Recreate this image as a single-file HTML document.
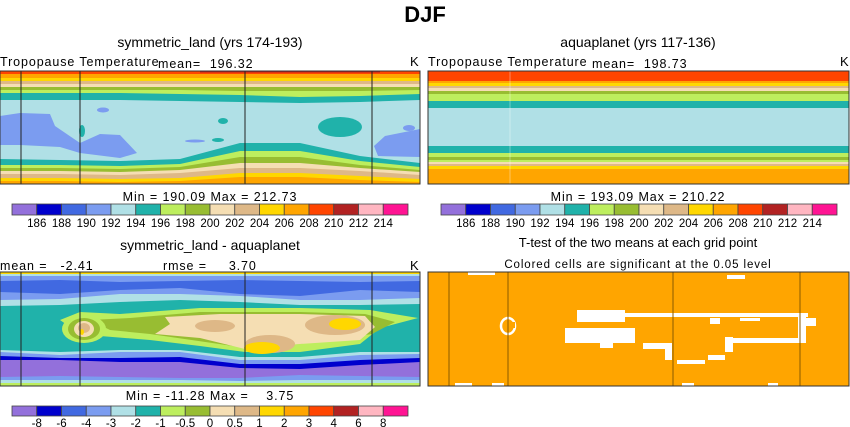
<!DOCTYPE html>
<html><head><meta charset="utf-8"><style>
html,body{margin:0;padding:0;background:#fff;}
svg{display:block;font-family:"Liberation Sans",sans-serif;}
.w{letter-spacing:0.9px;white-space:pre;}
</style></head><body>
<svg id="fig" width="850" height="427" viewBox="0 0 850 427">
<text x="425" y="22" text-anchor="middle" font-weight="bold" font-size="22">DJF</text>
<text x="210" y="47" text-anchor="middle" font-size="14">symmetric_land (yrs 174-193)</text>
<text x="638" y="47" text-anchor="middle" font-size="14">aquaplanet (yrs 117-136)</text>
<text class="w" x="0" y="66" font-size="12.5">Tropopause Temperature</text>
<text class="w" x="158" y="68" font-size="12.5">mean=  196.32</text>
<text x="410" y="66" font-size="13">K</text>
<text class="w" x="428" y="66" font-size="12.5">Tropopause Temperature</text>
<text class="w" x="592" y="68" font-size="12.5">mean=  198.73</text>
<text x="840" y="66" font-size="13">K</text>
<text class="w" x="210" y="201" text-anchor="middle" font-size="12.5">Min = 190.09 Max = 212.73</text>
<text class="w" x="638" y="201" text-anchor="middle" font-size="12.5">Min = 193.09 Max = 210.22</text>
<text x="210" y="250" text-anchor="middle" font-size="14">symmetric_land - aquaplanet</text>
<text x="638" y="247" text-anchor="middle" font-size="13">T-test of the two means at each grid point</text>
<text class="w" x="638" y="268" text-anchor="middle" font-size="11.5">Colored cells are significant at the 0.05 level</text>
<text class="w" x="0" y="270" font-size="12.5">mean =   -2.41</text>
<text class="w" x="163" y="270" font-size="12.5">rmse =     3.70</text>
<text x="410" y="270" font-size="13">K</text>
<text class="w" x="210" y="400" text-anchor="middle" font-size="12.5">Min = -11.28 Max =    3.75</text>
<g id="g"></g>
</svg>
<script>
const pal=["#9370DB","#0000CD","#4169E1","#7B9CF0","#B0E0E6","#20B2AA","#BDEE5E","#98BD32","#F5DEB3","#DEB887","#FFD700","#FFA500","#FF4500","#B22222","#FFB6C1","#FF1493"];
const absLabels=["186","188","190","192","194","196","198","200","202","204","206","208","210","212","214"];
const diffLabels=["-8","-6","-4","-3","-2","-1","-0.5","0","0.5","1","2","3","4","6","8"];
const xs=[0,60,120,180,240,300,360,420];
const p1Bands=[[12,[0,0,0,0,0,0,0,0]],[11,[3,3,3,3,3,3,3,3]],[10,[7,7,7,7,7,7,7,7]],[9,[10,10,10,10,10,10,10,10]],[8,[13,13,13,13,13,13,13,13]],[7,[16,16,16,16,16,16,16,16]],[6,[19,19,19,19,20,20,20,19]],[5,[22,22,22,23,24,26,25,23]],[4,[29,29,29,30,31,32,31,29]],[5,[88,89,90,88,72,72,85,92]],[6,[94,94,95,93,80,80,90,96]],[7,[97,97,98,96,86,86,94,99]],[8,[100,100,101,99,92,92,97,101]],[9,[103,103,104,102,97,97,100,104]],[10,[107,107,108,107,102,102,105,108]],[11,[110,110,111,110,106,106,109,111]]];
const p2Bands=[[12,0],[11,10],[10,12],[9,15],[8,17],[7,20],[6,23],[5,30],[4,37],[5,75],[6,82],[7,86],[6,89],[8,91],[9,93],[10,95],[11,98]];
const p3Bands=[[10,[0,0,0,0,0,0,0,0]],[4,[2,2,2,2,2,2,2,2]],[3,[4,4,4,4,4,4,4,4]],[2,[9,8,10,9,8,9,10,9]],[3,[20,22,18,16,22,24,18,20]],[4,[28,27,22,22,24,28,28,26]],[5,[34,33,30,28,30,33,33,32]],[4,[78,80,78,78,85,85,80,80]],[3,[80,83,80,80,88,88,83,82]],[1,[84,86,86,85,92,92,88,86]],[0,[88,88,90,90,96,97,93,90]],[3,[105,104,105,106,106,103,104,105]],[4,[108,108,108,108,109,108,108,108]],[6,[111,111,111,111,111,111,111,111]]];
const ttestCells=[[468,272,27,3],[727,275,18,4],[577,310,48,12],[565,328,70,15],[600,343,13,5],[617,313,191,4],[798,313,8,30],[806,318,10,8],[727,338,71,5],[725,337,8,15],[643,343,29,6],[665,348,7,12],[677,360,28,4],[708,355,17,5],[710,318,10,6],[740,318,20,3],[455,383,17,3],[492,383,12,3],[682,383,12,3],[768,383,10,3]];
const NS="http://www.w3.org/2000/svg";
const G=document.getElementById('g');
function mk(t,a,p){const e=document.createElementNS(NS,t);for(const k in a)e.setAttribute(k,a[k]);(p||G).appendChild(e);return e;}
function bandPath(ox,oy,w,h,ys){let d=`M${ox},${oy+h}`;ys.forEach((y,i)=>{d+=` L${ox+xs[i]*w/420},${oy+y}`;});return d+` L${ox+w},${oy+h}Z`;}
function panel(name,ox,oy,w,h){const g=mk('g',{});
 const cp=mk('clipPath',{id:'c'+name},g);mk('rect',{x:ox,y:oy,width:w,height:h},cp);
 const inner=mk('g',{'clip-path':`url(#c${name})`},g);return [g,inner];}
function frame(g,ox,oy,w,h,col){[21,80,245,372].forEach(x=>{const l=mk('line',{x1:ox+x,y1:oy,x2:ox+x,y2:oy+h,stroke:col||'#222','stroke-width':1},g);});
 const r=mk('rect',{x:ox,y:oy,width:w,height:h,fill:'none',stroke:'#333','stroke-width':1},g);}
function poly(g,pts,c,ox,oy){mk('polygon',{points:pts.map(p=>(ox+p[0])+','+(oy+p[1])).join(' '),fill:pal[c]},g);}
function ell(g,cx,cy,rx,ry,c,ox,oy){mk('ellipse',{cx:ox+cx,cy:oy+cy,rx,ry,fill:pal[c]},g);}
{const ox=0,oy=71,w=420,h=113;const [g,i]=panel('panel1-map',ox,oy,w,h);
 p1Bands.forEach(b=>{const p=mk('path',{d:bandPath(ox,oy,w,h,b[1]),fill:pal[b[0]]},i);});
 mk('rect',{x:200,y:oy,width:180,height:1.5,fill:pal[13]},i);
 poly(i,[[0,45],[20,42],[50,43],[55,55],[80,72],[100,63],[120,64],[137,82],[120,87],[80,82],[60,76],[20,74],[0,74]],3,ox,oy);
 poly(i,[[385,65],[420,58],[420,86],[378,85],[374,75]],3,ox,oy);
 ell(i,103,39,6,2.5,3,ox,oy);ell(i,409,57,6,3,3,ox,oy);
 ell(i,340,56,22,10,5,ox,oy);ell(i,82,60,3,6,5,ox,oy);ell(i,223,50,5,3,5,ox,oy);ell(i,218,69,6,2,5,ox,oy);ell(i,195,70,10,1.5,3,ox,oy);
 frame(g,ox,oy,w,h);}
{const ox=428,oy=71,w=421,h=113;const [g,i]=panel('panel2-map',ox,oy,w,h);
 p2Bands.forEach(b=>{const r=mk('rect',{x:ox,y:oy+b[1],width:w,height:h-b[1],fill:pal[b[0]]},i);});
 mk('line',{x1:ox+82,y1:oy,x2:ox+82,y2:oy+h,stroke:'#fff','stroke-width':0.6,opacity:0.6},i);
 const r=mk('rect',{x:ox,y:oy,width:w,height:h,fill:'none',stroke:'#333'},g);}
{const ox=0,oy=272,w=420,h=114;const [g,i]=panel('panel3-map',ox,oy,w,h);
 p3Bands.forEach(b=>{const p=mk('path',{d:bandPath(ox,oy,w,h,b[1]),fill:pal[b[0]]},i);});
 poly(i,[[60,48],[80,40],[120,42],[200,36],[300,36],[370,38],[418,46],[380,56],[360,72],[300,80],[245,80],[200,74],[150,68],[100,64],[80,62]],6,ox,oy);
 poly(i,[[90,48],[130,46],[200,40],[300,40],[365,42],[395,50],[372,62],[300,72],[240,75],[150,62],[110,58]],7,ox,oy);
 poly(i,[[165,45],[220,42],[300,42],[365,44],[375,55],[360,68],[300,72],[245,77],[200,66],[155,62],[170,52]],8,ox,oy);
 ell(i,270,72,25,9,9,ox,oy);ell(i,335,53,30,10,9,ox,oy);ell(i,215,54,20,6,9,ox,oy);
 ell(i,262,76,18,6,10,ox,oy);ell(i,345,52,16,6,10,ox,oy);
 ell(i,84,57,22,14,6,ox,oy);ell(i,84,57,16,11,7,ox,oy);ell(i,84,57,10,8,8,ox,oy);ell(i,84,56,6,5,9,ox,oy);ell(i,82,60,2,3,10,ox,oy);
 frame(g,ox,oy,w,h);}
{const ox=428,oy=272,w=421,h=114;const [g,i]=panel('panel4-map',ox,oy,w,h);
 mk('rect',{x:ox,y:oy,width:w,height:h,fill:pal[11]},i);
 mk('ellipse',{cx:508,cy:326,rx:7,ry:8,fill:'none',stroke:'#fff','stroke-width':2.5},i);
 mk('rect',{x:509,y:322,width:6,height:6,fill:pal[11]},i);
 ttestCells.forEach(c=>{const r=mk('rect',{x:c[0],y:c[1],width:c[2],height:c[3],fill:'#fff'},i);});
 frame(g,ox,oy,w,h,'#8a5a00');}
function cbar(name,x0,y0,w,hh,labels,ly){const g=mk('g',{});
 const bw=w/16;pal.forEach((c,k)=>{const r=mk('rect',{x:x0+k*bw,y:y0,width:bw,height:hh,fill:c,stroke:'#444','stroke-width':0.8},g);});
 labels.forEach((t,k)=>{const e=mk('text',{x:x0+(k+1)*bw,y:ly,'text-anchor':'middle','font-size':11.5},g);e.textContent=t;});}
cbar('panel1-colorbar',12,204,396,11,absLabels,227);
cbar('panel2-colorbar',441,204,396,11,absLabels,227);
cbar('panel3-colorbar',12,406,396,10,diffLabels,427);
</script>
</body></html>
